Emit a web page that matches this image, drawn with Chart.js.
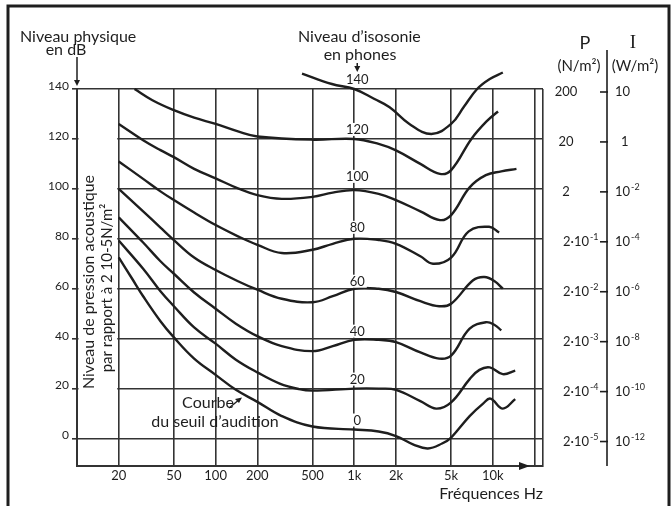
<!DOCTYPE html>
<html><head><meta charset="utf-8">
<script src="https://cdn.jsdelivr.net/npm/chart.js@4"></script>
<style>html,body{margin:0;padding:0;background:#fff}</style>
</head><body>
<canvas id="c" width="672" height="506"></canvas>
<script>
// ---- data ----
const freqTicks = [10, 20, 50, 100, 200, 500, 1000, 2000, 5000, 10000, 20000, 23000];
const freqTickLabels = ['', '20', '50', '100', '200', '500', '1k', '2k', '5k', '10k', '', ''];
const levelTicks = [0, 20, 40, 60, 80, 100, 120, 140];
const phonLabels = ['0', '20', '40', '60', '80', '100', '120', '140'];
const pressureLabels = [['2·10','-5'],['2·10','-4'],['2·10','-3'],['2·10','-2'],['2·10','-1'],['2',''],['20',''],['200','']];
const intensityLabels = [['10','-12'],['10','-10'],['10','-8'],['10','-6'],['10','-4'],['10','-2'],['1',''],['10','']];

const f0 = [20, 25, 30, 40, 50, 70, 100, 140, 200, 300, 500, 1000, 1500, 2000, 2700, 3400, 4300, 5000, 6800, 8500, 9600, 11800, 14500];
const L0 = [72.6, 64, 57, 47, 40.5, 32, 25.5, 19.5, 14.7, 9, 4.8, 3.6, 2.8, 1, -2.5, -4, -2, 0.4, 9, 14, 16, 12, 15.8];

const f20 = [20, 30, 40, 50, 70, 100, 140, 200, 290, 400, 500, 1000, 1500, 2000, 3000, 3900, 5000, 6800, 8000, 9500, 11800, 14500];
const L20 = [79.3, 68, 59, 53, 44.5, 38, 31.6, 26.5, 22, 19.8, 19.2, 20, 20, 19.5, 15, 12, 14.5, 23.8, 27.5, 28.5, 25.8, 27.2];

const f40 = [20, 30, 40, 50, 70, 100, 140, 200, 300, 500, 700, 1000, 1500, 2000, 3000, 4100, 5000, 6800, 8900, 10300, 11500];
const L40 = [88.6, 78.5, 71, 66, 58.5, 52, 46, 41, 37, 35, 37, 39.5, 39.5, 38.6, 34.5, 32, 33.2, 44, 46.6, 45.5, 43.3];

const f60 = [20, 30, 40, 50, 70, 100, 145, 200, 300, 500, 700, 1000, 1500, 2000, 3000, 4100, 5000, 7200, 8700, 10300, 11800];
const L60 = [100, 91, 84.5, 79.5, 72.5, 67.5, 63, 59.6, 56, 54.6, 57, 60, 60, 58.7, 55, 53, 54, 63.4, 64.7, 63, 60];

const f80 = [20, 30, 40, 50, 70, 100, 145, 200, 300, 500, 700, 1000, 1500, 2000, 3000, 3700, 5000, 6700, 9400, 11100];
const L80 = [111, 104, 99, 95.5, 90.5, 85.5, 81, 77.6, 74.3, 75.6, 78, 80, 79.5, 78, 73, 70, 72.5, 83, 84.8, 82.5];

const f100 = [20, 30, 40, 50, 70, 100, 145, 200, 300, 500, 700, 1000, 1500, 2000, 3000, 4150, 5000, 6800, 8900, 11500, 14800];
const L100 = [126, 119.5, 115.5, 112.7, 108, 104.2, 100.2, 97.5, 96, 96.8, 98.5, 99.5, 98, 95.5, 91, 87.5, 89.5, 100.6, 105.5, 107, 108];

const f120 = [26, 35, 50, 70, 100, 145, 200, 500, 1000, 1500, 2000, 3000, 4150, 5000, 7000, 9000, 10900];
const L120 = [140, 135.5, 131.5, 128.5, 126, 123, 121, 119.7, 120, 118, 115.4, 110, 106, 107.5, 120, 127, 131];

const f140 = [420, 690, 1000, 1400, 1800, 2500, 3600, 5000, 6200, 7700, 9500, 11800];
const L140 = [146.2, 142, 140, 136, 132.7, 126, 122, 126, 133, 140, 144, 146.6];

// ---- styling ----
const INK = '#1e1e1e';
const GRID = '#333';
const FONT = 'Lato, "Open Sans", sans-serif';

function mk(label, f, L) {
  return {
    label, data: f.map((x, i) => ({x, y: L[i]})),
    borderColor: INK, borderWidth: 2.4, pointRadius: 0, fill: false,
    tension: 0.4, clip: false
  };
}

function supText(ctx, base, sup, x, y, size, align) {
  ctx.font = size + 'px ' + FONT;
  const wb = ctx.measureText(base).width;
  ctx.font = Math.round(size * 0.68) + 'px ' + FONT;
  const ws = sup ? ctx.measureText(sup).width + 1 : 0;
  const w = wb + ws;
  let x0 = x;
  if (align === 'center') x0 = x - w / 2;
  else if (align === 'right') x0 = x - w;
  ctx.textAlign = 'left';
  ctx.textBaseline = 'middle';
  ctx.font = size + 'px ' + FONT;
  ctx.fillText(base, x0, y);
  if (sup) {
    ctx.font = Math.round(size * 0.68) + 'px ' + FONT;
    ctx.fillText(sup, x0 + wb + 1, y - size * 0.38);
  }
}

function arrowDown(ctx, x, y1, y2) {
  ctx.beginPath(); ctx.moveTo(x, y1); ctx.lineTo(x, y2 - 4); ctx.stroke();
  ctx.beginPath(); ctx.moveTo(x - 3, y2 - 6); ctx.lineTo(x + 3, y2 - 6); ctx.lineTo(x, y2); ctx.closePath(); ctx.fill();
}

const deco = {
  id: 'deco',
  beforeDatasetsDraw(chart) {
    const ctx = chart.ctx, ys = chart.scales.y, xs = chart.scales.x;
    const ca = chart.chartArea;
    ctx.save();
    ctx.fillStyle = '#fff';
    ctx.fillRect(ca.left + 1.5, ys.getPixelForValue(130), xs.getPixelForValue(20) - ca.left - 3, ys.getPixelForValue(10) - ys.getPixelForValue(130));
    ctx.fillStyle = INK;
    ctx.textAlign = 'center'; ctx.textBaseline = 'middle';
    ctx.translate(89, 282); ctx.rotate(-Math.PI / 2);
    ctx.font = '16px ' + FONT;
    ctx.fillText('Niveau de pression acoustique', 0, 0);
    ctx.font = '15px ' + FONT;
    ctx.fillText('par rapport à 2 10-5N/m²', -6, 18);
    ctx.restore();
  },
  afterDatasetsDraw(chart) {
    const ctx = chart.ctx, ys = chart.scales.y, xs = chart.scales.x;
    ctx.save();
    const dy = [-18, -9, -7, -7, -11, -12, -9, -9];
    const lx = xs.getPixelForValue(1000) + 3;
    ctx.font = '13px ' + FONT;
    ctx.textAlign = 'center'; ctx.textBaseline = 'middle';
    levelTicks.forEach((lv, i) => {
      const y = ys.getPixelForValue(lv) + dy[i];
      const w = ctx.measureText(phonLabels[i]).width;
      if (y > chart.chartArea.top + 4) {
        ctx.fillStyle = '#fff';
        ctx.fillRect(lx - w / 2 - 2, y - 7, w + 4, 13);
      }
      ctx.fillStyle = INK;
      ctx.fillText(phonLabels[i], lx, y);
    });
    ctx.restore();
  },
  afterDraw(chart) {
    const ctx = chart.ctx, ys = chart.scales.y, xs = chart.scales.x;
    const ca = chart.chartArea;
    ctx.save();
    ctx.fillStyle = INK; ctx.strokeStyle = INK;
    ctx.lineWidth = 3;
    ctx.strokeRect(8, 6, 661, 520);
    ctx.lineWidth = 1.5;
    ctx.font = '16px ' + FONT; ctx.textBaseline = 'middle'; ctx.textAlign = 'left';
    ctx.fillText('Niveau physique', 20, 37);
    ctx.fillText('Niveau d’isosonie', 298, 37);
    ctx.textAlign = 'center';
    ctx.fillText('en dB', 66, 50);
    ctx.fillText('en phones', 360, 55);
    arrowDown(ctx, ca.left, 57, ca.top - 3);
    arrowDown(ctx, xs.getPixelForValue(1000) + 3, 63, 72);
    const yb = ca.bottom;
    ctx.beginPath(); ctx.moveTo(530, yb); ctx.lineTo(519, yb - 4); ctx.lineTo(519, yb + 4); ctx.closePath(); ctx.fill();
    ctx.font = '16px ' + FONT; ctx.textAlign = 'center';
    ctx.fillText('Courbe', 208, 403);
    ctx.fillText('du seuil d’audition', 215, 422);
    ctx.lineWidth = 1.3;
    ctx.beginPath(); ctx.moveTo(229, 408); ctx.lineTo(240, 399); ctx.stroke();
    ctx.beginPath(); ctx.moveTo(242, 397.5); ctx.lineTo(235, 399); ctx.lineTo(239, 403); ctx.closePath(); ctx.fill();
    ctx.lineWidth = 1.6;
    ctx.beginPath(); ctx.moveTo(607, 50); ctx.lineTo(607, 466); ctx.stroke();
    ctx.font = '18px ' + FONT; ctx.textAlign = 'center';
    ctx.fillText('P', 585, 43);
    ctx.font = '19px "Liberation Serif", "DejaVu Serif", serif';
    ctx.fillText('I', 633, 43);
    ctx.font = '15px ' + FONT;
    ctx.fillText('(N/m²)', 579, 66);
    ctx.fillText('(W/m²)', 635, 66);
    levelTicks.forEach((lv, i) => {
      const y = ys.getPixelForValue(lv) + 3;
      ctx.beginPath(); ctx.moveTo(600, y); ctx.lineTo(608, y); ctx.stroke();
      const p = pressureLabels[i];
      if (p[1]) supText(ctx, p[0], p[1], 563, y, 13, 'left');
      else supText(ctx, p[0], '', 566, y, 13, 'center');
      const q = intensityLabels[i];
      supText(ctx, q[0], q[1], q[0] === '1' ? 621 : 615, y, 13, 'left');
    });
    ctx.restore();
  }
};

new Chart(document.getElementById('c'), {
  type: 'line',
  data: { datasets: [mk('0', f0, L0), mk('20', f20, L20), mk('40', f40, L40), mk('60', f60, L60),
                     mk('80', f80, L80), mk('100', f100, L100), mk('120', f120, L120), mk('140', f140, L140)] },
  options: {
    responsive: false, animation: false, devicePixelRatio: 1,
    layout: { padding: { top: 89, right: 129, left: 0, bottom: 0 } },
    plugins: { legend: { display: false }, tooltip: { enabled: false } },
    scales: {
      x: {
        type: 'logarithmic', min: 10, max: 23000, position: 'bottom',
        afterBuildTicks: s => { s.ticks = freqTicks.map(v => ({ value: v })); },
        afterFit: s => { s.height = 40; },
        ticks: { autoSkip: false, maxRotation: 0, color: INK, padding: 2,
                 font: { family: FONT, size: 13 }, callback: (v, i) => freqTickLabels[i] },
        grid: { color: GRID, lineWidth: 1.6, drawTicks: false },
        border: { display: true, color: GRID, width: 2 },
        title: { display: true, text: 'Fréquences Hz', align: 'end', color: INK,
                 font: { family: FONT, size: 16 }, padding: { top: 0, bottom: 3 } }
      },
      y: {
        type: 'linear', min: -11, max: 140,
        afterBuildTicks: s => { s.ticks = levelTicks.map(v => ({ value: v })); },
        afterFit: s => { s.width = 77; },
        ticks: { color: INK, padding: 3, labelOffset: -3, font: { family: FONT, size: 12 } },
        grid: { color: GRID, lineWidth: 1.6, tickLength: 5 },
        border: { display: true, color: GRID, width: 2 }
      }
    }
  },
  plugins: [deco]
});
</script>
</body></html>
